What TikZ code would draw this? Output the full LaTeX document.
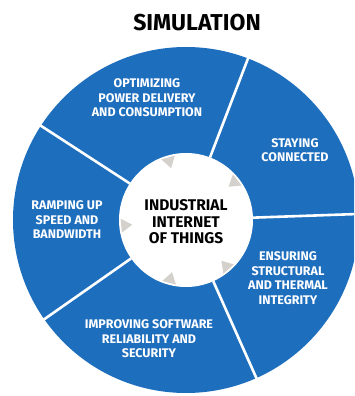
\documentclass[tikz,border=0pt]{standalone}
\usepackage{fontspec}
\setmainfont{Fira Sans}
\usepackage{tikz}

\definecolor{simblue}{RGB}{30,110,190}
\definecolor{tipgray}{RGB}{212,208,204}

\begin{document}
\begin{tikzpicture}[x=1pt,y=1pt,
	seglabel/.style={text=white,align=center,font=\bfseries\fontsize{12.5}{14.5}\selectfont},
	hublabel/.style={text=black,align=center,font=\bfseries\fontsize{15.5}{16.5}\selectfont},
	divider/.style={draw=white,line width=2.6pt},
	tip/.style={fill=tipgray}]
	\useasboundingbox (0,0) rectangle (354,396);
	\clip (0,0) rectangle (354,396);

	\coordinate (c) at (186,176);

	% wheel
	\fill[simblue] (c) circle (173);
	\fill[white] (c) circle (67);

	\foreach \a in {38,106,185,255,311}
		\fill[tip,shift={(c)},rotate=\a] (65,-7) -- (65,7) -- (54,0) -- cycle;

	\foreach \a in {2,69,147,215,294}
		\draw[divider] (c) ++(\a:67) -- ++(\a:110);

	% texts
	\node[font=\bfseries\fontsize{23}{26}\selectfont] (title) at (197,373) {SIMULATION};

	\node[hublabel] (iiot) at (186,174) {INDUSTRIAL\\INTERNET\\OF THINGS};

	\node[seglabel] (power)    at (147,298) {OPTIMIZING\\POWER DELIVERY\\AND CONSUMPTION};
	\node[seglabel] (connect)  at (295,246) {STAYING\\CONNECTED};
	\node[seglabel] (bandwidth) at (67,176) {RAMPING UP\\SPEED AND\\BANDWIDTH};
	\node[seglabel] (integrity) at (288,118) {ENSURING\\STRUCTURAL\\AND THERMAL\\INTEGRITY};
	\node[seglabel] (software) at (149,57) {IMPROVING SOFTWARE\\RELIABILITY AND\\SECURITY};
\end{tikzpicture}
\end{document}
